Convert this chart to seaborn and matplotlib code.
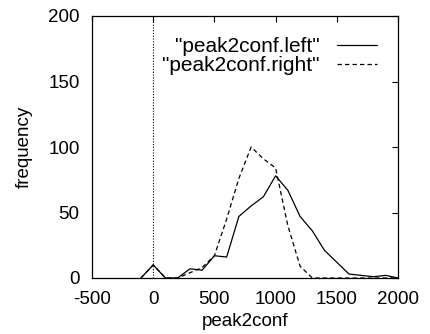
import matplotlib
matplotlib.use("Agg")
import matplotlib.pyplot as plt
import seaborn as sns
import pandas as pd

# Data
x_vals = [-100, 0, 100, 200, 300, 400, 500, 600, 700, 800, 900, 1000,
          1100, 1200, 1300, 1400, 1500, 1600, 1700, 1800, 1900, 2000]
left_vals = [0, 10, 0, 0, 7, 6, 17, 16, 47, 55, 62, 78,
             67, 47, 36, 21, 12, 3, 2, 1, 2, 0]
right_vals = [0, 10, 0, 0, 4, 8, 17, 45, 76, 100, 91, 84,
              40, 9, 0, 0, 0, 0, 0, 0, 0, 0]
series_names = ['"peak2conf.left"', '"peak2conf.right"']
x_ticks = [-500, 0, 500, 1000, 1500, 2000]
y_ticks = [0, 50, 100, 150, 200]

sns.set_theme(style="white")
plt.rcParams['font.family'] = ['Liberation Sans', 'DejaVu Sans']
plt.rcParams['axes.unicode_minus'] = False
plt.rcParams['text.color'] = 'black'
plt.rcParams['axes.labelcolor'] = 'black'

df_left = pd.DataFrame({"peak2conf": x_vals, "frequency": left_vals})
df_right = pd.DataFrame({"peak2conf": x_vals, "frequency": right_vals})

fig = plt.figure(figsize=(4.3, 3.34), dpi=100)
ax = fig.add_axes([92/430, 56/334, 306/430, 262/334])

ax.axvline(0, color="black", linestyle=(0, (1, 1.5)), linewidth=0.8)
sns.lineplot(data=df_left, x="peak2conf", y="frequency", ax=ax, color="black",
             linewidth=0.9, label=series_names[0])
sns.lineplot(data=df_right, x="peak2conf", y="frequency", ax=ax, color="black",
             linewidth=0.9, linestyle=(0, (3.5, 2.5)), label=series_names[1])

ax.set_xlim(-500, 2000)
ax.set_ylim(0, 200)
ax.set_xticks(x_ticks)
ax.set_yticks(y_ticks)
ax.tick_params(direction="in", length=4, width=0.8, top=True, right=True,
               labelsize=13.5, colors="black", pad=9)
for s in ax.spines.values():
    s.set_color("black")
    s.set_linewidth(0.9)
ax.set_xlabel("peak2conf", fontsize=13.5, color="black", labelpad=4)
ax.set_ylabel("frequency", fontsize=13.5, color="black", labelpad=11)

leg = ax.legend(loc="upper right", bbox_to_anchor=(0.931, 0.92), frameon=False,
                markerfirst=False, fontsize=15, handlelength=1.9,
                handletextpad=0.85, labelspacing=0.02, borderpad=0, borderaxespad=0)
for t in leg.get_texts():
    t.set_color("black")

fig.savefig("out.png", dpi=100)
